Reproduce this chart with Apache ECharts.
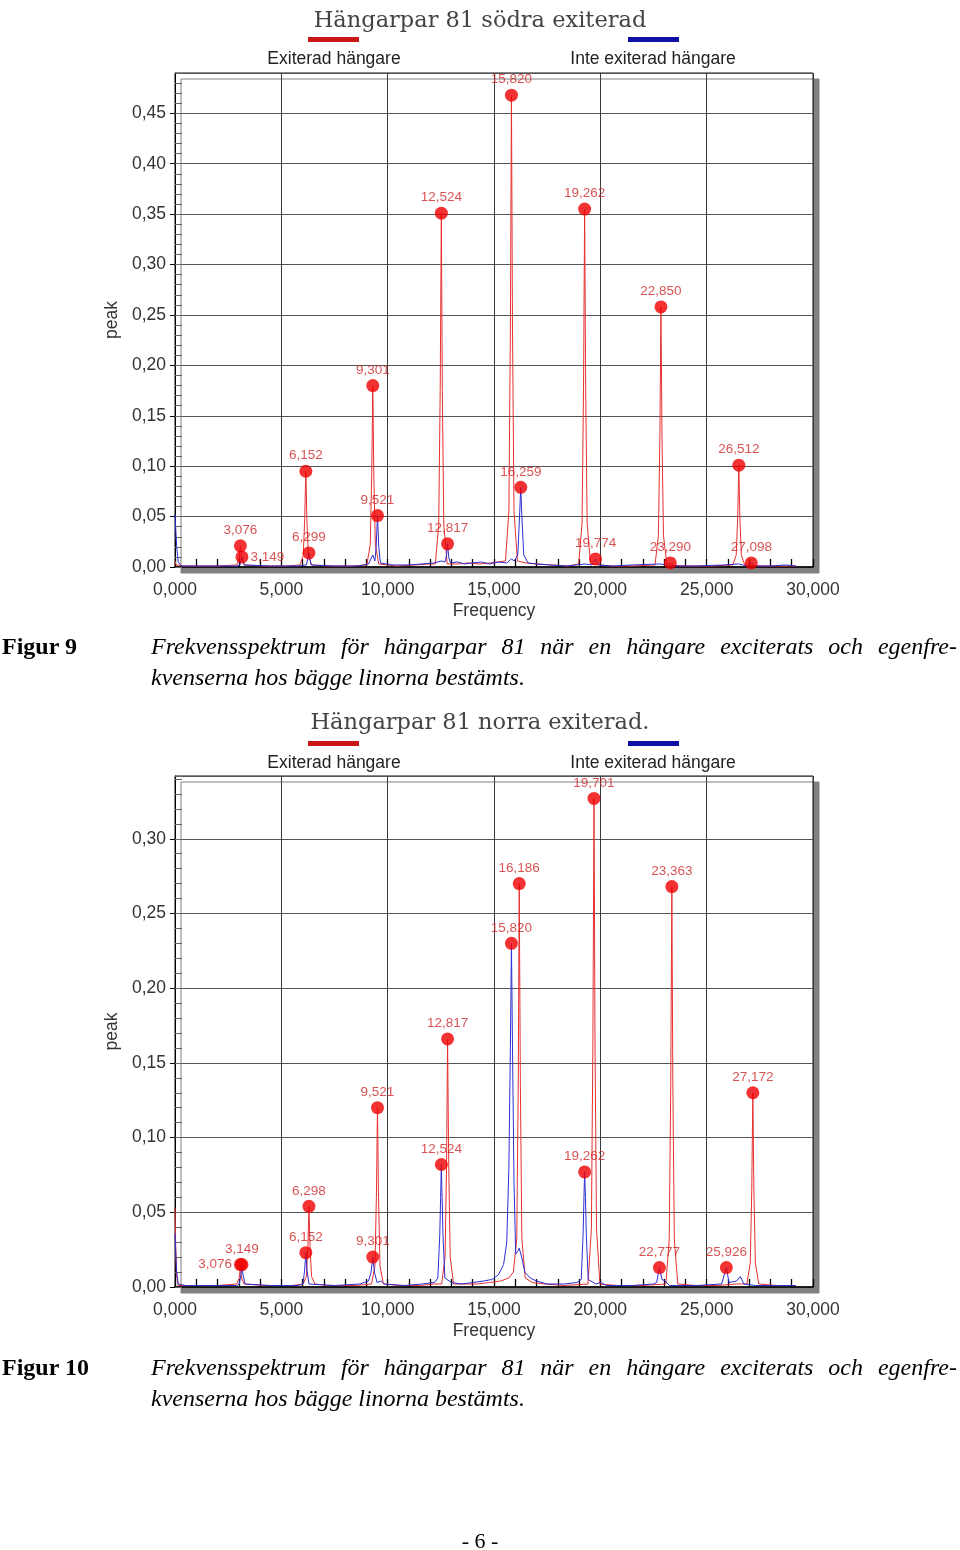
<!DOCTYPE html>
<html>
<head>
<meta charset="utf-8">
<title>Hängarpar 81</title>
<script src="https://cdn.jsdelivr.net/npm/echarts@6/dist/echarts.min.js"></script>
<style>
html, body { margin: 0; padding: 0; background: #fff; }
#page { position: relative; width: 960px; height: 1550px; }
#chart { position: absolute; left: 0; top: 0; width: 960px; height: 1550px; }
.fig { position: absolute; left: 2px; font-family: "Liberation Serif", "Times New Roman", serif; font-weight: bold; font-size: 24px; }
.cap { position: absolute; left: 151px; width: 806px; font-family: "Liberation Serif", "Times New Roman", serif; font-style: italic; font-size: 24px; }
.cap .l1 { text-align: justify; text-align-last: justify; white-space: nowrap; }
.pageno { position: absolute; left: 0; width: 960px; top: 1528px; text-align: center; font-family: "Liberation Serif", "Times New Roman", serif; font-size: 22px; }
</style>
</head>
<body>
<div id="page">
  <div id="chart"></div>
  <div class="fig" style="top:633px">Figur 9</div>
  <div class="cap" style="top:633px"><div class="l1">Frekvensspektrum för hängarpar 81 när en hängare exciterats och egenfre-</div><div style="margin-top:4px">kvenserna hos bägge linorna bestämts.</div></div>
  <div class="fig" style="top:1354px">Figur 10</div>
  <div class="cap" style="top:1354px"><div class="l1">Frekvensspektrum för hängarpar 81 när en hängare exciterats och egenfre-</div><div style="margin-top:4px">kvenserna hos bägge linorna bestämts.</div></div>
  <div class="pageno">- 6 -</div>
</div>
<script>
// Figur 9 - södra exiterad  (frekvens Hz, peak)
var red1 = [
    [0.00,0.006],[0.05,0.002],[0.40,0.001],[1.00,0.001],[2.00,0.001],
    [2.90,0.002],[3.02,0.009],[3.076,0.021],[3.13,0.009],[3.25,0.002],
    [4.20,0.001],[5.20,0.001],
    [5.87,0.002],[6.03,0.011],[6.10,0.048],[6.152,0.095],[6.20,0.048],[6.27,0.011],[6.43,0.002],
    [7.20,0.001],[8.30,0.001],
    [9.02,0.002],[9.18,0.022],[9.25,0.090],[9.301,0.180],[9.35,0.090],[9.42,0.022],[9.58,0.003],
    [10.4,0.001],[11.3,0.002],[11.9,0.003],
    [12.24,0.003],[12.40,0.042],[12.47,0.175],[12.524,0.351],[12.57,0.175],[12.64,0.042],[12.80,0.003],
    [13.3,0.003],[13.8,0.004],[14.3,0.003],[14.8,0.004],[15.2,0.005],
    [15.54,0.006],[15.70,0.056],[15.77,0.234],[15.820,0.468],[15.87,0.234],[15.94,0.056],[16.10,0.006],
    [16.5,0.004],[17.0,0.003],[17.8,0.002],[18.5,0.001],
    [18.98,0.003],[19.14,0.043],[19.21,0.178],[19.262,0.355],[19.31,0.178],[19.38,0.043],[19.54,0.003],
    [20.5,0.001],[21.5,0.001],
    [22.57,0.002],[22.73,0.031],[22.80,0.129],[22.850,0.258],[22.90,0.129],[22.97,0.031],[23.13,0.002],
    [24.0,0.001],[25.2,0.001],
    [26.23,0.002],[26.39,0.012],[26.46,0.050],[26.512,0.101],[26.56,0.050],[26.63,0.012],[26.79,0.002],
    [27.6,0.001],[28.5,0.001],[29.2,0.001]
];
var blue1 = [
    [0.00,0.052],[0.03,0.040],[0.08,0.020],[0.15,0.005],[0.30,0.001],[1.0,0.001],[2.0,0.001],[2.9,0.001],
    [3.05,0.002],[3.149,0.010],[3.25,0.002],
    [4.5,0.001],[5.8,0.001],
    [6.18,0.002],[6.299,0.014],[6.40,0.002],
    [7.5,0.001],[8.6,0.001],[9.1,0.003],[9.30,0.012],[9.40,0.006],
    [9.46,0.020],[9.521,0.051],[9.58,0.020],[9.66,0.004],
    [10.2,0.002],[11.0,0.002],[11.6,0.003],[12.2,0.004],[12.52,0.006],[12.70,0.005],
    [12.77,0.012],[12.817,0.023],[12.87,0.010],[12.95,0.004],
    [13.3,0.005],[13.6,0.003],[14.0,0.004],[14.4,0.005],[14.8,0.003],[15.2,0.005],[15.6,0.004],[15.82,0.008],[15.95,0.006],
    [16.12,0.012],[16.20,0.050],[16.259,0.079],[16.31,0.050],[16.40,0.012],[16.6,0.004],
    [17.0,0.003],[17.6,0.002],[18.4,0.001],[19.3,0.003],[19.6,0.002],
    [19.774,0.008],[19.9,0.002],[20.6,0.001],[21.5,0.002],[22.8,0.003],[23.1,0.002],
    [23.29,0.004],[23.45,0.001],[24.5,0.001],[25.8,0.002],[26.5,0.003],[26.9,0.001],
    [27.098,0.004],[27.25,0.001],[28.0,0.001],[28.7,0.002],[29.2,0.001]
];
var peaks1 = [
    [3.076,0.021],[3.149,0.010],[6.152,0.095],[6.299,0.014],[9.301,0.180],[9.521,0.051],
    [12.524,0.351],[12.817,0.023],[15.820,0.468],[16.259,0.079],[19.262,0.355],[19.774,0.008],
    [22.850,0.258],[23.290,0.004],[26.512,0.101],[27.098,0.004]
];

// Figur 10 - norra exiterad
var red2 = [
    [0.00,0.053],[0.03,0.030],[0.07,0.008],[0.15,0.001],[1.0,0.001],[2.0,0.001],
    [2.90,0.002],[3.02,0.006],[3.076,0.013],[3.13,0.006],[3.25,0.002],
    [4.2,0.001],[5.5,0.001],
    [6.02,0.002],[6.18,0.007],[6.25,0.027],[6.298,0.054],[6.35,0.027],[6.42,0.007],[6.58,0.002],
    [7.2,0.001],[8.5,0.001],
    [9.24,0.002],[9.40,0.014],[9.47,0.060],[9.521,0.120],[9.57,0.060],[9.64,0.014],[9.80,0.002],
    [10.5,0.001],[11.5,0.001],[12.2,0.002],
    [12.54,0.002],[12.70,0.020],[12.77,0.083],[12.817,0.166],[12.87,0.083],[12.94,0.020],[13.10,0.002],
    [13.5,0.002],[14.2,0.002],[14.8,0.003],[15.3,0.004],[15.7,0.006],
    [15.91,0.010],[16.07,0.032],[16.14,0.135],[16.186,0.270],[16.24,0.135],[16.31,0.032],[16.47,0.006],
    [16.8,0.003],[17.4,0.002],[18.3,0.001],
    [19.42,0.002],[19.58,0.039],[19.65,0.163],[19.701,0.327],[19.75,0.163],[19.82,0.039],[19.98,0.002],
    [20.8,0.001],[22.0,0.001],
    [23.08,0.002],[23.24,0.032],[23.31,0.134],[23.363,0.268],[23.41,0.134],[23.48,0.032],[23.64,0.002],
    [24.5,0.001],[25.5,0.001],[26.4,0.002],
    [26.89,0.002],[27.05,0.016],[27.12,0.065],[27.172,0.130],[27.22,0.065],[27.29,0.016],[27.45,0.002],
    [28.3,0.001],[29.2,0.001]
];
var blue2 = [
    [0.00,0.036],[0.03,0.025],[0.08,0.010],[0.15,0.002],[0.5,0.001],[1.5,0.001],[2.9,0.001],
    [3.02,0.002],[3.10,0.008],[3.149,0.014],[3.20,0.008],[3.30,0.002],
    [4.5,0.001],[5.8,0.001],
    [6.02,0.002],[6.10,0.012],[6.152,0.023],[6.20,0.012],[6.30,0.002],
    [7.5,0.001],[8.7,0.002],[9.1,0.004],
    [9.22,0.010],[9.301,0.020],[9.38,0.010],[9.50,0.003],[9.70,0.004],[9.85,0.002],
    [10.8,0.001],[11.6,0.002],[12.2,0.003],
    [12.36,0.006],[12.45,0.035],[12.49,0.060],[12.524,0.082],[12.56,0.060],[12.60,0.035],[12.69,0.006],
    [13.0,0.003],[13.5,0.002],[14.0,0.003],[14.5,0.004],[14.9,0.005],[15.2,0.008],[15.45,0.015],
    [15.60,0.030],[15.70,0.080],[15.77,0.160],[15.820,0.230],[15.87,0.160],[15.94,0.070],[16.02,0.022],
    [16.12,0.024],[16.186,0.026],[16.30,0.020],[16.45,0.010],[16.7,0.006],[17.0,0.004],[17.5,0.002],[18.3,0.002],[18.9,0.003],
    [19.10,0.005],[19.19,0.035],[19.23,0.060],[19.262,0.077],[19.30,0.060],[19.34,0.035],[19.43,0.005],
    [19.8,0.002],[20.0,0.003],[20.3,0.001],[21.5,0.001],[22.5,0.002],
    [22.65,0.003],[22.777,0.013],[22.90,0.005],[23.05,0.004],[23.25,0.001],
    [24.5,0.001],[25.7,0.002],
    [25.926,0.013],[26.05,0.003],[26.4,0.004],[26.58,0.007],[26.75,0.002],[27.3,0.001],[28.5,0.001],[29.2,0.001]
];
var peaks2 = [
    [3.076,0.015],[3.149,0.015],[6.152,0.023],[6.298,0.054],[9.301,0.020],[9.521,0.120],
    [12.524,0.082],[12.817,0.166],[15.820,0.230],[16.186,0.270],[19.262,0.077],[19.701,0.327],
    [22.777,0.013],[23.363,0.268],[25.926,0.013],[27.172,0.130]
];

var titles = ['Hängarpar 81 södra exiterad', 'Hängarpar 81 norra exiterad.'];
var names = ['Exiterad hängare', 'Inte exiterad hängare'];

var RED = '#e63030';
var BLUE = '#2e2ed2';
var DOT = '#f00000';
var FONT = '"Liberation Sans", Arial, sans-serif';

function fmtX(v){ return v.toFixed(3).replace('.', ','); }
function fmtY(v){ return v.toFixed(2).replace('.', ','); }

// label side for a few crowded markers
function peakData(arr, side){
    return arr.map(function(p){
        var key = fmtX(p[0]);
        if (side[key]) {
            return { value: p, label: { position: side[key] } };
        }
        return { value: p };
    });
}

var grids = [
    { top: 73, height: 494, max: 0.49, titleTop: 5, legTop: 37, textTop: 50 },
    { top: 776, height: 511, max: 0.342, titleTop: 707, legTop: 741, textTop: 754 }
];

var option = {
    animation: false,
    backgroundColor: '#fff',
    title: [],
    legend: [],
    grid: [],
    xAxis: [],
    yAxis: [],
    series: []
};

grids.forEach(function(g, i){
    option.title.push({
        text: titles[i], left: 'center', top: g.titleTop,
        textStyle: { fontFamily: '"DejaVu Serif", serif', fontSize: 22.5, fontWeight: 'normal', color: '#444' }
    });
    option.title.push({
        text: names[0], left: 334, top: g.textTop, textAlign: 'center', padding: 0,
        textStyle: { fontFamily: FONT, fontSize: 17.5, fontWeight: 'normal', color: '#222' }
    });
    option.title.push({
        text: names[1], left: 653, top: g.textTop, textAlign: 'center', padding: 0,
        textStyle: { fontFamily: FONT, fontSize: 17.5, fontWeight: 'normal', color: '#222' }
    });
    option.legend.push({
        data: [names[0]], left: 308, top: g.legTop, padding: 0, icon: 'rect',
        itemWidth: 51, itemHeight: 5, selectedMode: false,
        itemStyle: { color: '#c81818' },
        formatter: function(){ return ''; }
    });
    option.legend.push({
        data: [names[1]], left: 628, top: g.legTop, padding: 0, icon: 'rect',
        itemWidth: 51, itemHeight: 5, selectedMode: false,
        itemStyle: { color: '#1010a8' },
        formatter: function(){ return ''; }
    });
    option.grid.push({
        left: 175, top: g.top, width: 638, height: g.height,
        show: true, backgroundColor: '#fff', borderColor: '#111', borderWidth: 1,
        shadowColor: '#808080', shadowOffsetX: 6, shadowOffsetY: 6, shadowBlur: 0
    });
    option.xAxis.push({
        type: 'value', gridIndex: i, min: 0, max: 30, interval: 5,
        name: 'Frequency', nameLocation: 'middle', nameGap: 35,
        nameTextStyle: { fontFamily: FONT, fontSize: 17.5, color: '#333' },
        axisLine: { lineStyle: { color: '#000', width: 1.5 } },
        axisTick: { inside: true, length: 8, lineStyle: { color: '#000', width: 1.3 } },
        minorTick: { show: true, splitNumber: 5, length: 8, lineStyle: { color: '#000', width: 1.3 } },
        axisLabel: { formatter: fmtX, margin: 14, fontFamily: FONT, fontSize: 17.5, color: '#333' },
        splitLine: { show: true, lineStyle: { color: '#3a3a3a', width: 1 } }
    });
    // main y axis
    option.yAxis.push({
        type: 'value', gridIndex: i, min: 0, max: g.max, interval: 0.05, position: 'left',
        name: 'peak', nameLocation: 'middle', nameGap: 50, nameRotate: 90,
        nameTextStyle: { fontFamily: FONT, fontSize: 17.5, color: '#333' },
        axisLine: { show: true, lineStyle: { color: '#000' } },
        axisTick: { show: true, length: 5, lineStyle: { color: '#000' } },
        axisLabel: { formatter: fmtY, margin: 9, fontFamily: FONT, fontSize: 17.5, color: '#333', showMaxLabel: false },
        splitLine: { show: true, lineStyle: { color: '#555', width: 1 } }
    });
    // inner small ticks every 0,01
    option.yAxis.push({
        type: 'value', gridIndex: i, min: 0, max: g.max, interval: 0.01, position: 'left',
        axisLine: { show: false },
        axisTick: { show: true, inside: true, length: 7, lineStyle: { color: '#666' } },
        axisLabel: { show: false },
        splitLine: { show: false }
    });
});

var reds = [red1, red2], blues = [blue1, blue2], peaks = [peaks1, peaks2];
var sides = [{ '3,149': 'right' }, { '3,076': 'left' }];

for (var i = 0; i < 2; i++) {
    option.series.push({
        name: names[0], type: 'line', xAxisIndex: i, yAxisIndex: i * 2,
        data: reds[i], showSymbol: false, symbol: 'none',
        lineStyle: { color: RED, width: 1 }, itemStyle: { color: RED }
    });
    option.series.push({
        name: names[1], type: 'line', xAxisIndex: i, yAxisIndex: i * 2,
        data: blues[i], showSymbol: false, symbol: 'none',
        lineStyle: { color: BLUE, width: 1 }, itemStyle: { color: BLUE }
    });
    option.series.push({
        name: 'topp', type: 'scatter', xAxisIndex: i, yAxisIndex: i * 2,
        data: peakData(peaks[i], sides[i]), symbolSize: 13, z: 5,
        itemStyle: { color: DOT },
        label: {
            show: true, position: 'top', distance: 2,
            formatter: function(p){ return fmtX(p.value[0]); },
            fontFamily: FONT, fontSize: 13.5, color: '#d02828'
        }
    });
}

var chart = echarts.init(document.getElementById('chart'));
chart.setOption(option);
</script>
</body>
</html>
